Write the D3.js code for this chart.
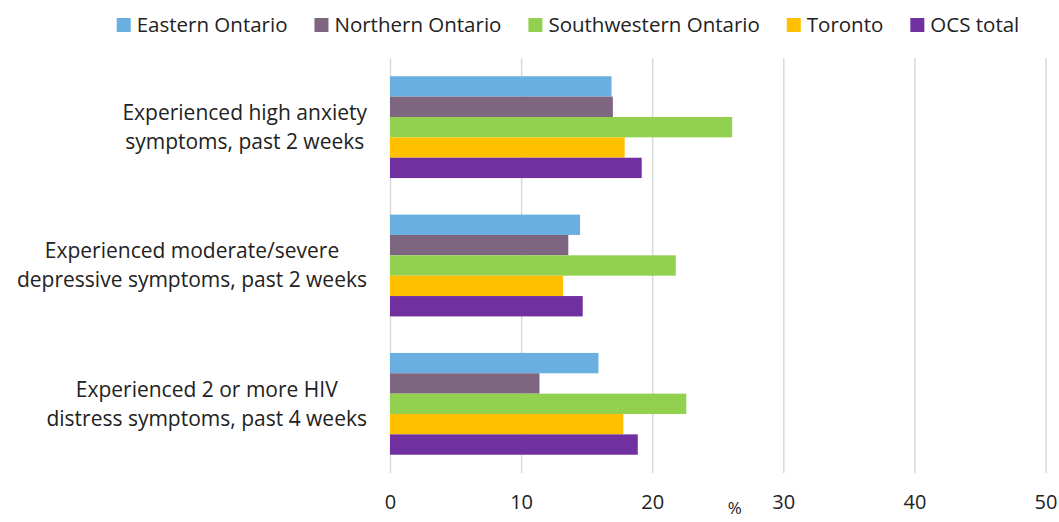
<!DOCTYPE html>
<html>
<head>
<meta charset="utf-8">
<script src="https://cdn.jsdelivr.net/npm/d3@7"></script>
<style>
  body { margin: 0; background: #fff; }
  svg text { font-family: "Open Sans", "Noto Sans", sans-serif; fill: #222; }
</style>
</head>
<body>
<svg id="chart" width="1059" height="522"></svg>
<script>
const categories = [
  ['Experienced high anxiety', 'symptoms, past 2 weeks'],
  ['Experienced moderate/severe', 'depressive symptoms, past 2 weeks'],
  ['Experienced 2 or more HIV', 'distress symptoms, past 4 weeks']
];
const seriesNames = ['Eastern Ontario', 'Northern Ontario', 'Southwestern Ontario', 'Toronto', 'OCS total'];
const seriesColors = ['#69b0e1', '#7f6680', '#92d050', '#ffc000', '#7030a0'];
const eastern = [16.9, 14.5, 15.9];
const northern = [17.0, 13.6, 11.4];
const southwestern = [26.1, 21.8, 22.6];
const toronto = [17.9, 13.2, 17.8];
const ocsTotal = [19.2, 14.7, 18.9];
const xTicks = [0, 10, 20, 30, 40, 50];

const values = [eastern, northern, southwestern, toronto, ocsTotal];

const svg = d3.select('#chart'),
  margin = { top: 58, right: 14, bottom: 49, left: 390 };
const inner = {
  width: 1059 - margin.left - margin.right,
  height: 522 - margin.top - margin.bottom
};

const g = svg.append('g')
  .attr('transform', `translate(${margin.left},${margin.top})`);

const x = d3.scaleLinear().domain([0, 50]).range([0, 655.5]);

const y0 = d3.scaleBand()
  .domain(d3.range(categories.length))
  .range([0, inner.height])
  .paddingInner(0.264)
  .paddingOuter(0.132);

const y1 = d3.scaleBand()
  .domain(d3.range(seriesNames.length))
  .range([0, y0.bandwidth()]);

// gridlines + tick labels
const xAxis = g.append('g')
  .attr('transform', `translate(0,${inner.height})`)
  .call(d3.axisBottom(x).tickValues(xTicks).tickSize(-inner.height).tickPadding(22));
xAxis.select('.domain').remove();
xAxis.selectAll('.tick line').attr('stroke', '#d9d9d9').attr('stroke-width', 1.5);
xAxis.selectAll('.tick text').style('font-size', '20px').attr('fill', '#222');

g.append('text')
  .attr('x', x(26.3))
  .attr('y', inner.height + 41)
  .attr('text-anchor', 'middle')
  .style('font-size', '17px')
  .text('%');

// bars
const group = g.selectAll('.group')
  .data(categories.map((c, i) => i))
  .enter().append('g')
  .attr('class', 'group')
  .attr('transform', i => `translate(0,${y0(i)})`);

group.selectAll('rect')
  .data(i => values.map((s, j) => ({ series: j, value: s[i] })))
  .enter().append('rect')
  .attr('x', x(0))
  .attr('y', d => y1(d.series))
  .attr('width', d => x(d.value) - x(0))
  .attr('height', y1.bandwidth())
  .attr('fill', d => seriesColors[d.series]);

// category labels, each line centred, block right-aligned
const labelRight = -23;
categories.forEach((lines, i) => {
  const cy = y0(i) + y0.bandwidth() / 2;
  const t = g.append('g');
  const texts = lines.map((line, k) => t.append('text')
    .attr('y', cy + (k - (lines.length - 1) / 2) * 29)
    .attr('dy', '0.35em')
    .attr('text-anchor', 'middle')
    .style('font-size', '21px')
    .text(line));
  const w = d3.max(texts, s => s.node().getComputedTextLength());
  texts.forEach(s => s.attr('x', labelRight - w / 2));
});

// legend
const legend = svg.append('g');
const gap = 27;
let lx = 0;
seriesNames.forEach((name, i) => {
  const item = legend.append('g').attr('transform', `translate(${lx},0)`);
  item.append('rect')
    .attr('x', 0).attr('y', 18)
    .attr('width', 14).attr('height', 14)
    .attr('fill', seriesColors[i]);
  const txt = item.append('text')
    .attr('x', 20).attr('y', 25)
    .attr('dy', '0.35em')
    .style('font-size', '20.5px')
    .text(name);
  lx += 20 + txt.node().getComputedTextLength() + gap;
});
const legendWidth = lx - gap;
legend.attr('transform', `translate(${568 - legendWidth / 2},0)`);
</script>
</body>
</html>
